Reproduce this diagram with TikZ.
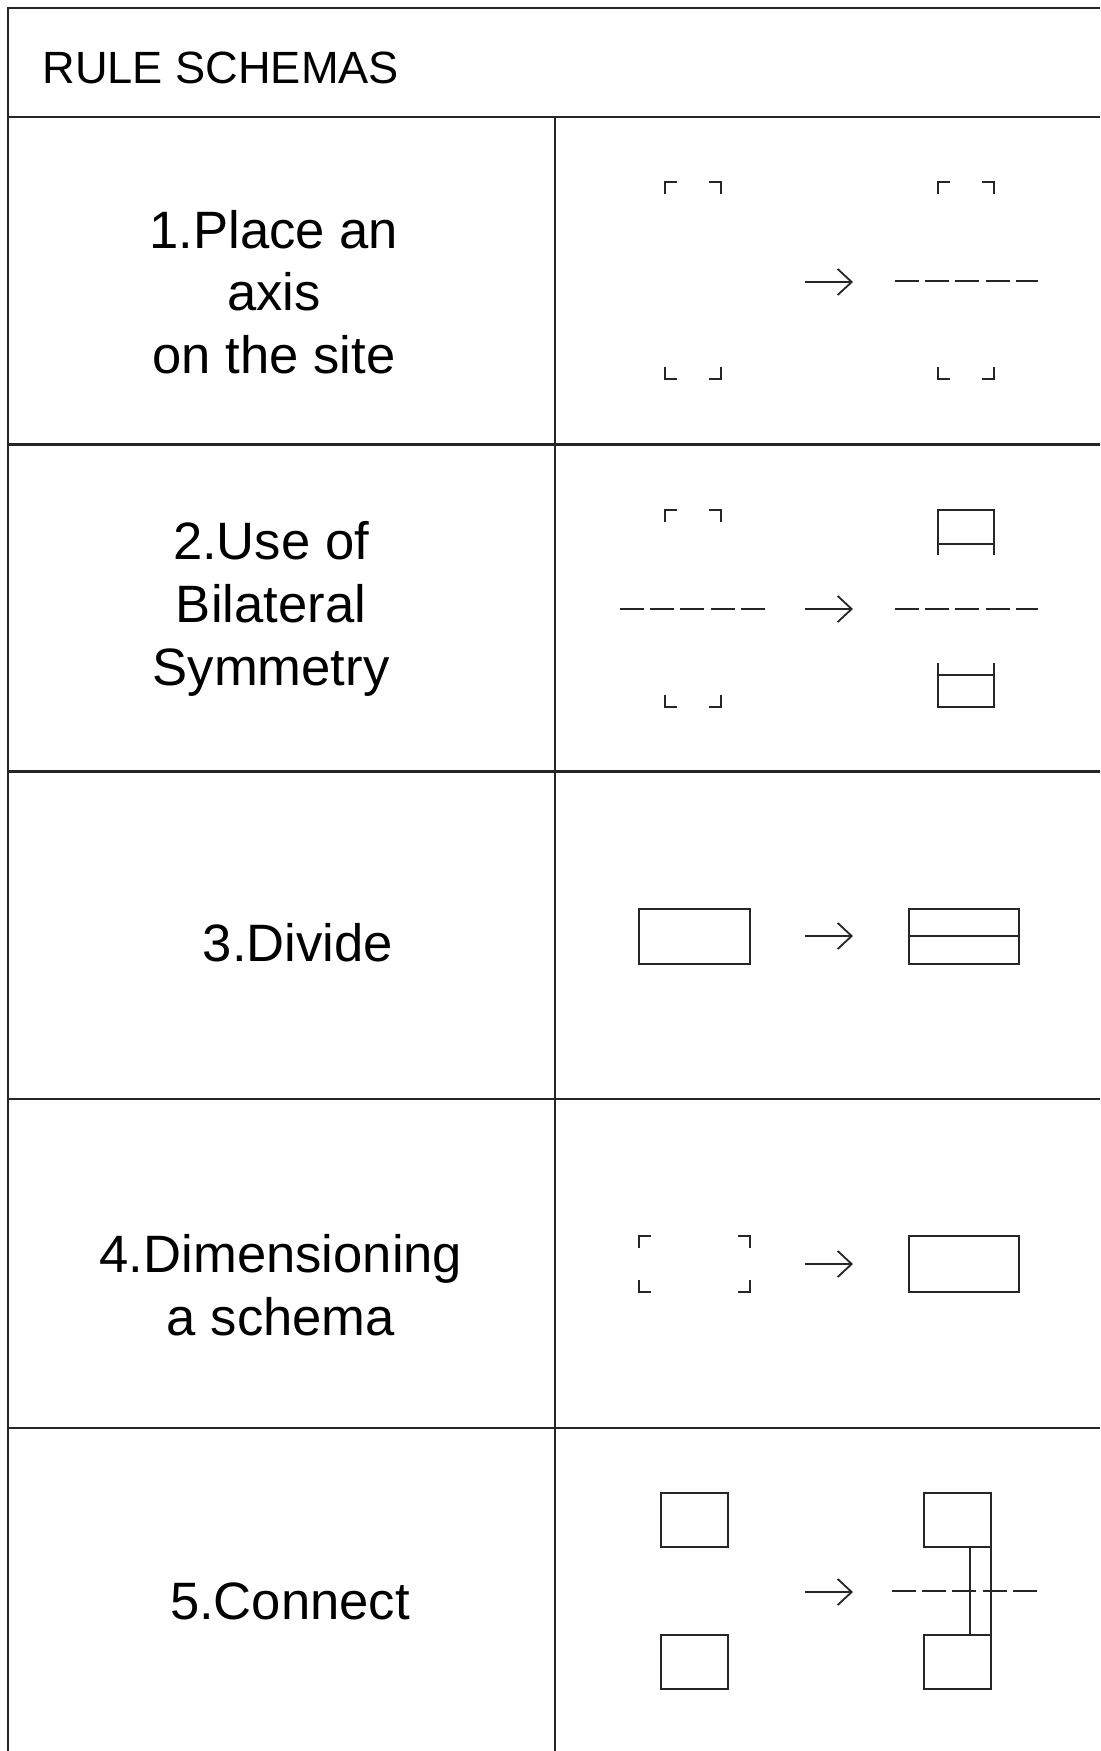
\documentclass[tikz,border=0pt]{standalone}
\usepackage{fontspec}
\setmainfont{Liberation Sans}
\usetikzlibrary{arrows.meta}
\newcommand\cornermarks[4]{% x1 y1 x2 y2 (top-left, bottom-right)
  \draw[shapeline] (#1,#2+12) -- (#1,#2) -- (#1+12,#2);
  \draw[shapeline] (#3-12,#2) -- (#3,#2) -- (#3,#2+12);
  \draw[shapeline] (#1,#4-12) -- (#1,#4) -- (#1+12,#4);
  \draw[shapeline] (#3-12,#4) -- (#3,#4) -- (#3,#4-12);
}
\begin{document}
\begin{tikzpicture}[x=0.5pt,y=-0.5pt,
  frameline/.style={line width=1.1pt,black!85},
  divline/.style={line width=0.85pt,black!85},
  shapeline/.style={line width=1pt,black!85},
  axisline/.style={line width=1pt,black!85,dash pattern=on 12pt off 3.1pt},
  rulearrow/.style={line width=0.9pt,black!85,-{Straight Barb[length=7pt,width=13pt]}},
  labeltext/.style={anchor=base,inner sep=0pt,font=\fontsize{26.3pt}{31pt}\selectfont},
  headtext/.style={anchor=base west,inner sep=0pt,font=\fontsize{22.6pt}{27pt}\selectfont}]
\useasboundingbox (0,0) rectangle (1100,1751);
\fill[white] (0,0) rectangle (1100,1751);
% table frame
\draw[frameline] (1100,8) -- (8,8) -- (8,1751);
\draw[frameline] (8,117) -- (1100,117);
\draw[frameline] (8,444.5) -- (1100,444.5);
\draw[frameline] (8,771.5) -- (1100,771.5);
\draw[frameline] (8,1099) -- (1100,1099);
\draw[frameline] (8,1428) -- (1100,1428);
\draw[divline] (555,117) -- (555,1751);
% header
\node[headtext] (head) at (42,83) {RULE SCHEMAS};
% left column labels
\node[labeltext] (t1a) at (274,248) {1.Place an};
\node[labeltext] (t1b) at (274,310) {axis};
\node[labeltext] (t1c) at (274,373) {on the site};
\node[labeltext] (t2a) at (271,559) {2.Use of};
\node[labeltext] (t2b) at (271,622) {Bilateral};
\node[labeltext] (t2c) at (271,685) {Symmetry};
\node[labeltext] (t3a) at (298,961) {3.Divide};
\node[labeltext] (t4a) at (281,1272) {4.Dimensioning};
\node[labeltext] (t4b) at (281,1335) {a schema};
\node[labeltext] (t5a) at (290,1619) {5.Connect};
% arrow coordinates
\coordinate (a1s) at (805,282);  \coordinate (a1e) at (853,282);
\coordinate (a2s) at (805,609);  \coordinate (a2e) at (853,609);
\coordinate (a3s) at (805,936);  \coordinate (a3e) at (853,936);
\coordinate (a4s) at (805,1264); \coordinate (a4e) at (853,1264);
\coordinate (a5s) at (805,1592); \coordinate (a5e) at (853,1592);
\foreach \i in {1,...,5} \draw[rulearrow] (a\i s) -- (a\i e);
% row 1
\cornermarks{665}{182}{721}{379}
\cornermarks{938}{182}{994}{379}
\draw[axisline] (895,281) -- (1038,281);
% row 2
\cornermarks{665}{510}{721}{707}
\draw[axisline] (620,609) -- (765,609);
\draw[axisline] (895,609) -- (1038,609);
\draw[shapeline] (938,555) -- (938,510) -- (994,510) -- (994,555);
\draw[shapeline] (938,544) -- (994,544);
\draw[shapeline] (938,663) -- (938,707) -- (994,707) -- (994,663);
\draw[shapeline] (938,675) -- (994,675);
% row 3
\draw[shapeline] (639,909) rectangle (750,964);
\draw[shapeline] (909,909) rectangle (1019,964);
\draw[shapeline] (909,936) -- (1019,936);
% row 4
\cornermarks{639}{1236}{750}{1292}
\draw[shapeline] (909,1236) rectangle (1019,1292);
% row 5
\draw[shapeline] (661,1493) rectangle (728,1547);
\draw[shapeline] (661,1635) rectangle (728,1689);
\draw[shapeline] (924,1493) rectangle (991,1547);
\draw[shapeline] (924,1635) rectangle (991,1689);
\draw[shapeline] (991,1547) -- (991,1635);
\draw[shapeline] (970,1547) -- (970,1635);
\draw[axisline] (892,1591) -- (1037,1591);
\end{tikzpicture}
\end{document}
